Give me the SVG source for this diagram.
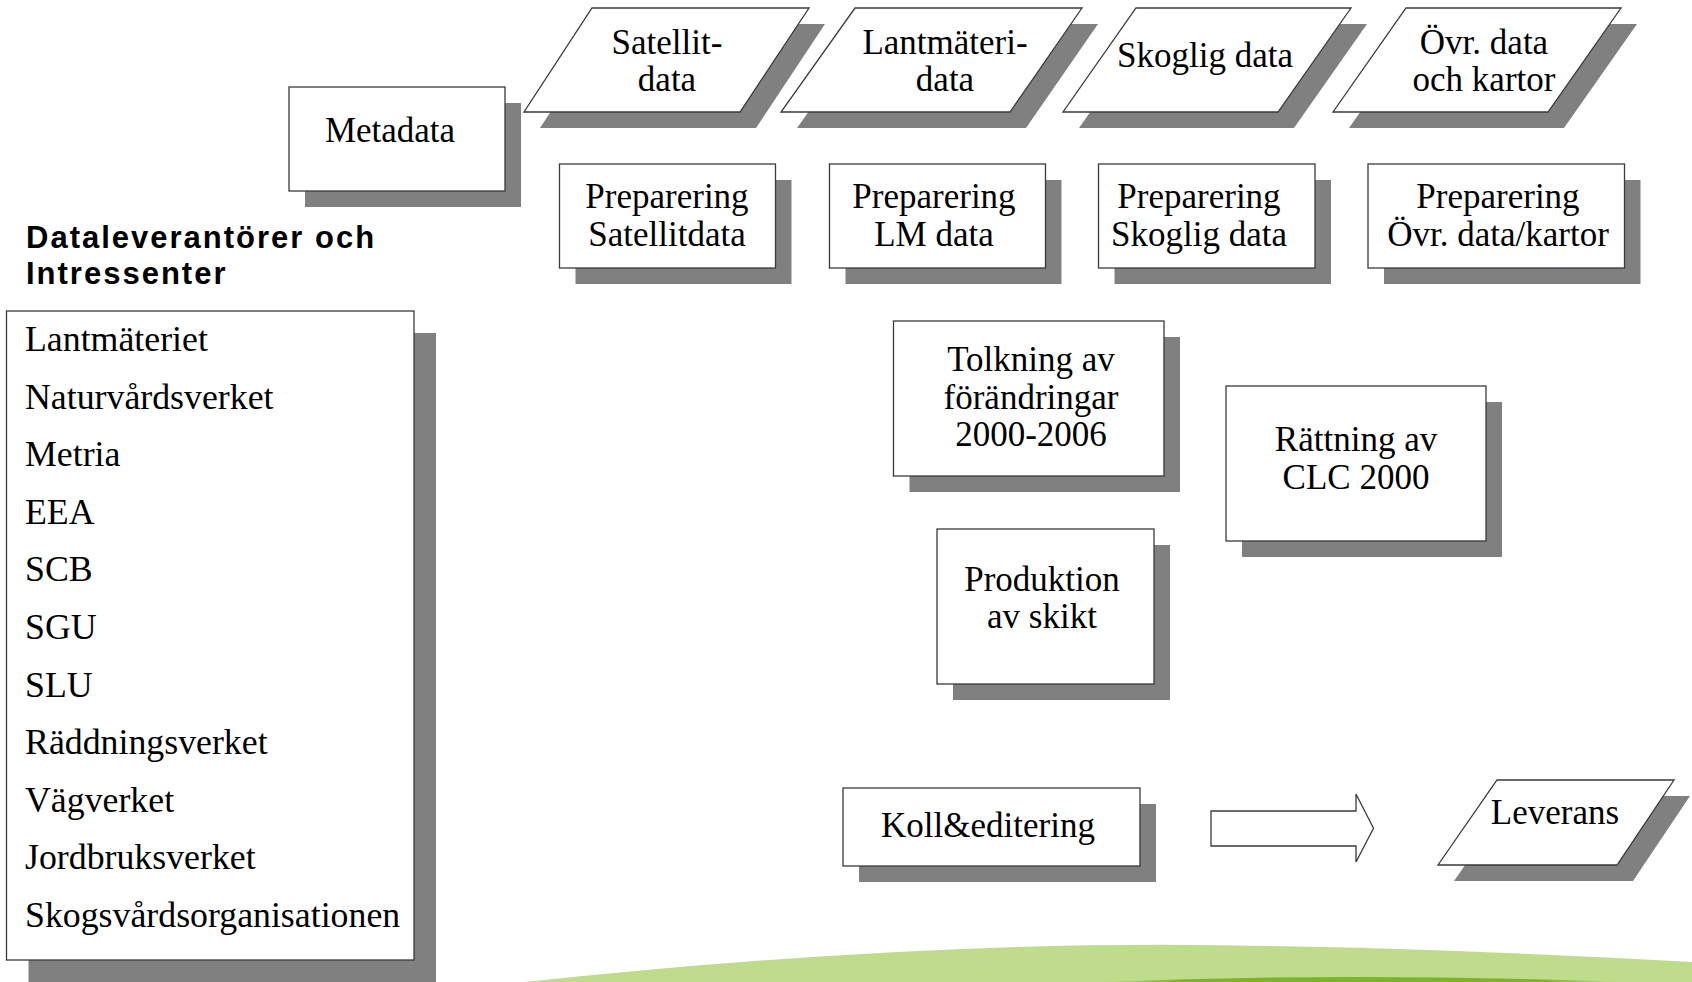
<svg xmlns="http://www.w3.org/2000/svg" width="1692" height="982" viewBox="0 0 1692 982">
<style>
.sh{fill:#808080}
.bx{fill:#fff;stroke:#3a3a3a;stroke-width:1.3}
.t{font-family:"Liberation Serif","Times New Roman",serif;font-size:35px;fill:#000;text-anchor:middle}
.li{font-family:"Liberation Serif","Times New Roman",serif;font-size:35.8px;fill:#000}
.h{font-family:"Liberation Sans",Arial,sans-serif;font-weight:bold;font-size:31px;letter-spacing:2px;fill:#000}
</style>
<defs>
<linearGradient id="dg" x1="0" y1="0" x2="1" y2="0">
<stop offset="0" stop-color="#7cb328" stop-opacity="0"/>
<stop offset="0.15" stop-color="#7cb328"/>
<stop offset="0.85" stop-color="#7cb328"/>
<stop offset="1" stop-color="#7cb328" stop-opacity="0"/>
</linearGradient>
</defs>
<rect width="1692" height="982" fill="#fff"/>
<g id="green-band">
<path d="M 525 982 Q 900 942 1200 945 Q 1450 948 1692 962 L 1692 982 Z" fill="#bfdb8c"/>
<path d="M 1100 982 Q 1350 972 1620 982 Z" fill="url(#dg)"/>
</g>
<g id="heading">
<text class="h" x="26" y="248">Dataleverantörer och</text>
<text class="h" x="26" y="284">Intressenter</text>
</g>
<g id="list">
<rect class="sh" x="28.5" y="333" width="407.5" height="649"/>
<rect class="bx" x="6.5" y="311" width="407.5" height="649"/>
<text class="li" x="25" y="351">Lantmäteriet</text>
<text class="li" x="25" y="408.6">Naturvårdsverket</text>
<text class="li" x="25" y="466.2">Metria</text>
<text class="li" x="25" y="523.8">EEA</text>
<text class="li" x="25" y="581.4">SCB</text>
<text class="li" x="25" y="639">SGU</text>
<text class="li" x="25" y="696.6">SLU</text>
<text class="li" x="25" y="754.2">Räddningsverket</text>
<text class="li" x="25" y="811.8">Vägverket</text>
<text class="li" x="25" y="869.4">Jordbruksverket</text>
<text class="li" x="25" y="927">Skogsvårdsorganisationen</text>
</g>
<g id="metadata">
<rect class="sh" x="305" y="103" width="216" height="104"/>
<rect class="bx" x="289" y="87" width="216" height="104"/>
<text class="t" x="390" y="142">Metadata</text>
</g>
<g id="satellitdata">
<polygon class="sh" points="608,24 825,24 756,128 540,128"/>
<polygon class="bx" points="592,8 809,8 740,112 524,112"/>
<text class="t" x="667" y="54">Satellit-</text>
<text class="t" x="667" y="91">data</text>
</g>
<g id="lantmateridata">
<polygon class="sh" points="871,24 1098,24 1026,128 797,128"/>
<polygon class="bx" points="855,8 1082,8 1010,112 781,112"/>
<text class="t" x="945" y="54">Lantmäteri-</text>
<text class="t" x="945" y="91">data</text>
</g>
<g id="skogligdata">
<polygon class="sh" points="1152,24 1367,24 1294,128 1079,128"/>
<polygon class="bx" points="1136,8 1351,8 1278,112 1063,112"/>
<text class="t" x="1205" y="67">Skoglig data</text>
</g>
<g id="ovrdata">
<polygon class="sh" points="1422,24 1637,24 1564,128 1349,128"/>
<polygon class="bx" points="1406,8 1621,8 1548,112 1333,112"/>
<text class="t" x="1484" y="54">Övr. data</text>
<text class="t" x="1484" y="91">och kartor</text>
</g>
<g id="prep-satellit">
<rect class="sh" x="575.5" y="180" width="216" height="104"/>
<rect class="bx" x="559.5" y="164" width="216" height="104"/>
<text class="t" x="667" y="208">Preparering</text>
<text class="t" x="667" y="246">Satellitdata</text>
</g>
<g id="prep-lm">
<rect class="sh" x="845.5" y="180" width="216" height="104"/>
<rect class="bx" x="829.5" y="164" width="216" height="104"/>
<text class="t" x="934" y="208">Preparering</text>
<text class="t" x="934" y="246">LM data</text>
</g>
<g id="prep-skoglig">
<rect class="sh" x="1114.5" y="180" width="216.5" height="104"/>
<rect class="bx" x="1098.5" y="164" width="216.5" height="104"/>
<text class="t" x="1199" y="208">Preparering</text>
<text class="t" x="1199" y="246">Skoglig data</text>
</g>
<g id="prep-ovr">
<rect class="sh" x="1384" y="180" width="256.5" height="104"/>
<rect class="bx" x="1368" y="164" width="256.5" height="104"/>
<text class="t" x="1498" y="208">Preparering</text>
<text class="t" x="1498" y="246">Övr. data/kartor</text>
</g>
<g id="tolkning">
<rect class="sh" x="909.5" y="337" width="270.5" height="155"/>
<rect class="bx" x="893.5" y="321" width="270.5" height="155"/>
<text class="t" x="1031" y="371">Tolkning av</text>
<text class="t" x="1031" y="408.5">förändringar</text>
<text class="t" x="1031" y="446">2000-2006</text>
</g>
<g id="rattning">
<rect class="sh" x="1242" y="402" width="260" height="155"/>
<rect class="bx" x="1226" y="386" width="260" height="155"/>
<text class="t" x="1356" y="451">Rättning av</text>
<text class="t" x="1356" y="489">CLC 2000</text>
</g>
<g id="produktion">
<rect class="sh" x="953" y="545" width="217" height="155"/>
<rect class="bx" x="937" y="529" width="217" height="155"/>
<text class="t" x="1042" y="591">Produktion</text>
<text class="t" x="1042" y="628">av skikt</text>
</g>
<g id="koll">
<rect class="sh" x="859" y="804" width="297" height="78"/>
<rect class="bx" x="843" y="788" width="297" height="78"/>
<text class="t" x="988" y="837">Koll&amp;editering</text>
</g>
<g id="leverans">
<polygon class="sh" points="1513,796 1690,796 1633,881 1454,881"/>
<polygon class="bx" points="1497,780 1674,780 1617,865 1438,865"/>
<text class="t" x="1555" y="824">Leverans</text>
</g>
<g id="connectors">
<polygon points="1211,811 1356,811 1356,794 1373.5,828.3 1356,862 1356,846 1211,846" fill="#fff" stroke="#3a3a3a" stroke-width="1.3"/>
</g>
</svg>
